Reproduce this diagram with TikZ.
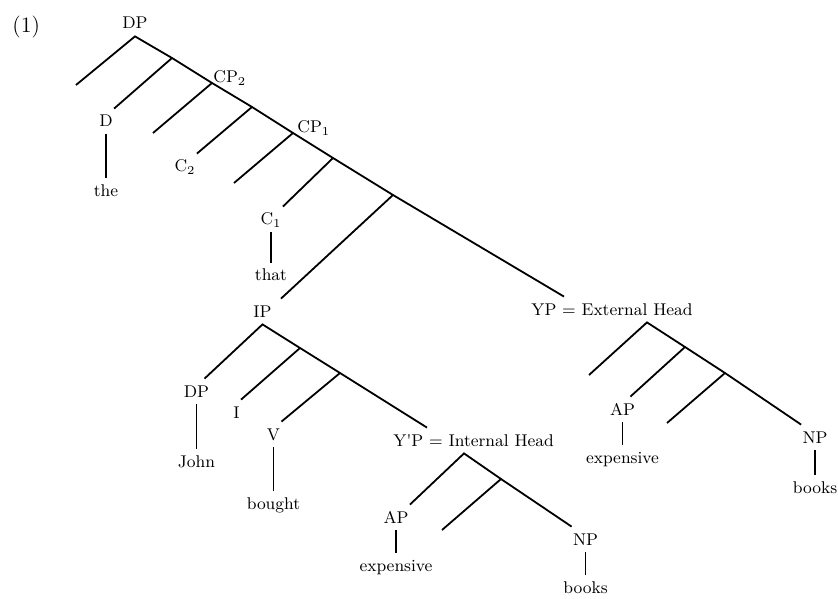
\documentclass[tikz,border=0pt]{standalone}
\usepackage{tikz}
\usetikzlibrary{positioning}

\tikzset{
    branch/.style = {line width = 0.9pt},
    cat/.style    = {anchor = base, inner xsep = 0.5pt, inner ysep = 3.5pt,
                     text height = 5.5pt, text depth = 0pt,
                     font = \fontsize{8.5}{10}\selectfont},
    leaf/.style   = {cat},
}

\begin{document}
\begin{tikzpicture}[x = 0.5pt, y = -0.5pt]
    \useasboundingbox (0,0) rectangle (838,598);

    \node [anchor = base west, inner sep = 0pt, font = \fontsize{11}{13}\selectfont] (ExNum) at (12,33) {(1)};

    %Upper spine
    \node [cat] (TopDP) at (135,29) {DP};
    \coordinate (Spine1) at (172,58);
    \coordinate (Spine2) at (212,83);
    \coordinate (Spine3) at (252,107);
    \coordinate (Spine4) at (293,133);
    \coordinate (Spine5) at (333,158);
    \coordinate (Spine6) at (393,195);

    %Empty branches
    \coordinate (FreeTop)   at (76,85);
    \coordinate (FreeCPTwo) at (153,133);
    \coordinate (FreeCPOne) at (234,183);

    \node [anchor = base west, inner sep = 0pt, font = \fontsize{8.5}{10}\selectfont] (CPTwoLabel) at (213,83) {CP$_2$};
    \node [anchor = base west, inner sep = 0pt, font = \fontsize{8.5}{10}\selectfont] (CPOneLabel) at (297,133) {CP$_1$};

    \node [cat] (Det)     at (106,127) {D};
    \node [cat] (CompTwo) at (185,172) {C$_2$};
    \node [cat] (CompOne) at (271,225) {C$_1$};

    \node [leaf, below = +0.77 cm of Det]     (The)  {the};
    \node [leaf, below = +0.53 cm of CompOne] (That) {that};

    %IP
    \node [cat] (IP)     at (262.5,317) {IP};
    \coordinate (IPSpine1) at (300,348);
    \coordinate (IPSpine2) at (340,373);

    \node [cat] (SubjDP) at (196.5,397) {DP};
    \node [cat] (Infl)   at (236.5,418) {I};
    \node [cat] (Verb)   at (273.5,440) {V};

    \node [leaf, below = +0.79 cm of SubjDP] (John)   {John};
    \node [leaf, below = +0.76 cm of Verb]   (Bought) {bought};

    %Internal head
    \node [cat, anchor = base west] (InternalHead) at (392,446) {Y\textquotesingle P = Internal Head};
    \coordinate (InSpine1)  at (501,479);
    \coordinate (FreeInner) at (442,530);

    \node [cat] (InnerAP) at (396,523) {AP};
    \node [cat] (InnerNP) at (585.5,545) {NP};

    \node [leaf, below = +0.40 cm of InnerAP] (InnerExpensive) {expensive};
    \node [leaf, below = +0.40 cm of InnerNP] (InnerBooks)     {books};

    %External head
    \node [cat, anchor = base west] (ExternalHead) at (530,315) {YP = External Head};
    \coordinate (OutSpine1) at (685,347);
    \coordinate (OutSpine2) at (725,373);
    \coordinate (FreeOuterLeft)  at (589,375);
    \coordinate (FreeOuterRight) at (667,423);

    \node [cat] (OuterAP) at (622.5,415) {AP};
    \node [cat] (OuterNP) at (815,443) {NP};

    \node [leaf, below = +0.40 cm of OuterAP] (OuterExpensive) {expensive};
    \node [leaf, below = +0.44 cm of OuterNP] (OuterBooks)     {books};

    %-------------------------------------------
    %Branches

    % top DP down to the external head
    \draw [branch] (FreeTop) -- (TopDP.south) -- (Spine1) -- (Spine2) -- (Spine3)
        -- (Spine4) -- (Spine5) -- (Spine6) -- ([xshift = 17pt]ExternalHead.north west);
    \draw [branch] (Spine1) -- (Det.north east);
    \draw [branch] (Spine2) -- (FreeCPTwo);
    \draw [branch] (Spine3) -- (CompTwo.north east);
    \draw [branch] (Spine4) -- (FreeCPOne);
    \draw [branch] (Spine5) -- (CompOne.north east);
    \draw [branch] (Spine6) -- ([xshift = 4pt]IP.north east);

    \draw [branch] (Det.south)     -- (The.north);
    \draw [branch] (CompOne.south) -- (That.north);

    % IP
    \draw [branch] ([xshift = -3pt]SubjDP.north east) -- (IP.south) -- (IPSpine1)
        -- (IPSpine2) -- ([xshift = 17.5pt]InternalHead.north west);
    \draw [branch] (IPSpine1) -- (Infl.north east);
    \draw [branch] (IPSpine2) -- (Verb.north east);

    \draw [branch] (SubjDP.south) -- (John.north);
    \draw [branch] (Verb.south)   -- (Bought.north);

    % Y'P
    \draw [branch] (InnerAP.north east) -- ([xshift = 36pt]InternalHead.south west)
        -- (InSpine1) -- (InnerNP.north west);
    \draw [branch] (InSpine1) -- (FreeInner);

    \draw [branch] (InnerAP.south) -- (InnerExpensive.north);
    \draw [branch] (InnerNP.south) -- (InnerBooks.north);

    % YP
    \draw [branch] (FreeOuterLeft) -- ([xshift = 58.5pt]ExternalHead.south west)
        -- (OutSpine1) -- (OutSpine2) -- (OuterNP.north west);
    \draw [branch] (OutSpine1) -- ([xshift = -3pt]OuterAP.north east);
    \draw [branch] (OutSpine2) -- (FreeOuterRight);

    \draw [branch] (OuterAP.south) -- (OuterExpensive.north);
    \draw [branch] (OuterNP.south) -- (OuterBooks.north);

\end{tikzpicture}
\end{document}
